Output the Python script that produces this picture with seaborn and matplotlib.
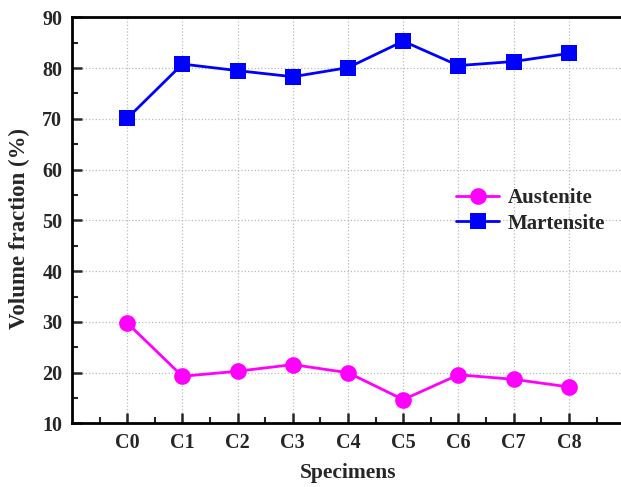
import numpy as np
import pandas as pd
import matplotlib
matplotlib.use("Agg")
import matplotlib.pyplot as plt
import seaborn as sns

# -----------------------
# Data
# -----------------------
specimens = ["C0", "C1", "C2", "C3", "C4", "C5", "C6", "C7", "C8"]
austenite = [29.8, 19.3, 20.3, 21.6, 20.0, 14.7, 19.6, 18.7, 17.2]
martensite = [70.1, 80.8, 79.5, 78.3, 80.1, 85.3, 80.5, 81.3, 82.9]

df = pd.DataFrame({
    "pos": np.arange(len(specimens)),
    "Specimen": specimens,
    "Austenite": austenite,
    "Martensite": martensite,
})

# -----------------------
# Style
# -----------------------
sns.set_style("ticks")
plt.rcParams["font.family"] = ["Liberation Serif", "DejaVu Serif"]
plt.rcParams["font.weight"] = "bold"

fig = plt.figure(figsize=(6.21, 4.87), dpi=100)
ax = fig.add_axes([0.116, 0.1304, 0.889, 0.834])

sns.lineplot(data=df, x="pos", y="Austenite", ax=ax, color="#FF00FF",
             marker="o", markersize=12, markeredgewidth=0, linewidth=2,
             label="Austenite")
sns.lineplot(data=df, x="pos", y="Martensite", ax=ax, color="#0000FF",
             marker="s", markersize=11.5, markeredgewidth=0, linewidth=2,
             label="Martensite")

# -----------------------
# Axes
# -----------------------
ax.set_xlim(-1, 9)
ax.set_ylim(10, 90)
ax.set_xticks(df["pos"])
ax.set_xticklabels(specimens)
ax.set_xticks(np.arange(-0.5, 9, 1), minor=True)
ax.set_yticks(np.arange(10, 91, 10))
ax.set_yticks(np.arange(15, 90, 10), minor=True)

ax.tick_params(axis="both", which="major", direction="in", length=7, width=1.8,
               labelsize=14.5, pad=7, top=False, right=False)
ax.tick_params(axis="both", which="minor", direction="in", length=4, width=1.5,
               top=False, right=False)
for lbl in ax.get_xticklabels() + ax.get_yticklabels():
    lbl.set_fontweight("bold")

for side in ["left", "bottom", "top", "right"]:
    ax.spines[side].set_linewidth(2)
    ax.spines[side].set_color("black")

ax.grid(True, which="major", linestyle=":", color="#BBBBBB", linewidth=0.9)
ax.set_axisbelow(True)

ax.set_xlabel("Specimens", fontsize=15.5, fontweight="bold")
ax.set_ylabel("Volume fraction (%)", fontsize=16.5, fontweight="bold")
ax.xaxis.set_label_coords(0.5, -0.097)
ax.yaxis.set_label_coords(-0.076, 0.479)

leg = ax.legend(loc="center left", bbox_to_anchor=(0.695, 0.523), frameon=False,
                fontsize=15, handlelength=2.1, handletextpad=0.4,
                borderaxespad=0, borderpad=0, labelspacing=0.25)
for t in leg.get_texts():
    t.set_fontweight("bold")

fig.savefig("out.png", dpi=100)
